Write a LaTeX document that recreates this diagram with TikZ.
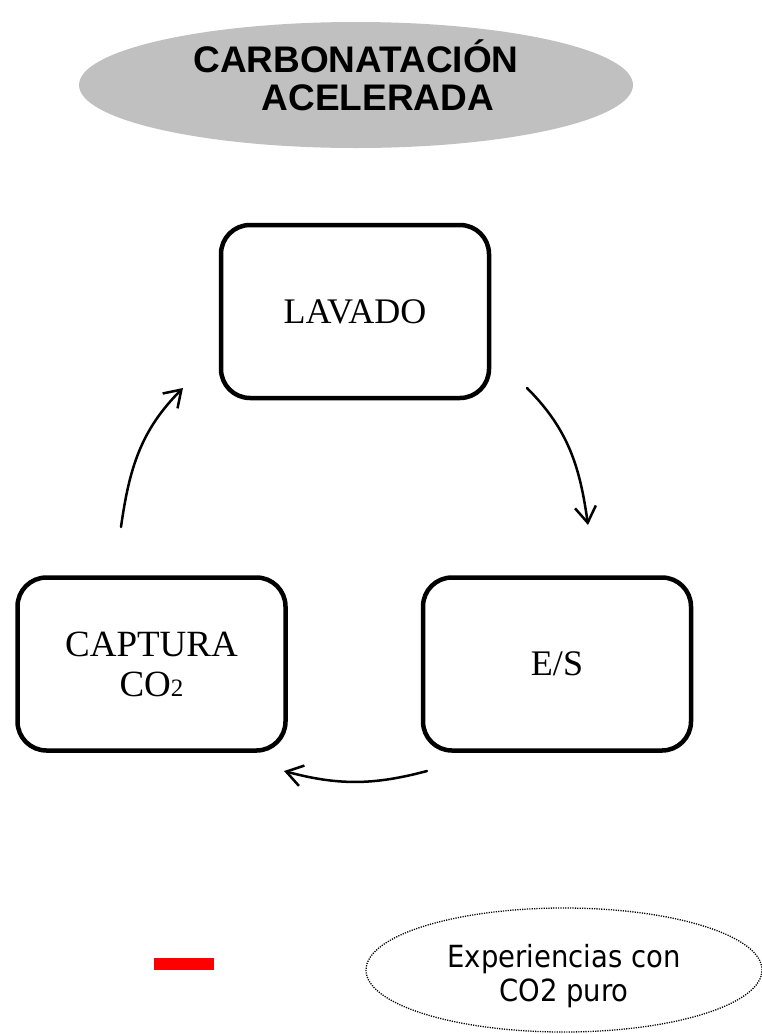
\documentclass[tikz,border=0pt]{standalone}
\usepackage{fontspec}
\setmainfont{Liberation Serif}
\newfontfamily\arialfont{Liberation Sans}
\newfontfamily\tahomafont{DejaVu Sans Condensed}
\usetikzlibrary{arrows.meta,shapes.geometric}
\definecolor{titlegray}{RGB}{192,192,192}
\tikzset{
  x=1pt,y=1pt,
  titleshape/.style={ellipse,fill=titlegray,minimum width=554,minimum height=126,inner sep=0},
  titletxt/.style={font=\arialfont\bfseries\fontsize{37}{40}\selectfont,inner sep=0},
  stepbox/.style={draw,line width=4.5pt,rounded corners=29pt,minimum width=268,minimum height=173,
    inner sep=0,align=center,font=\fontsize{36}{40}\selectfont},
  cyclearrow/.style={line width=2.5pt,line cap=round,-{Straight Barb[length=16pt,width=21pt,line width=2.5pt]}},
  noteshape/.style={ellipse,draw,line width=1.3pt,dash pattern=on 1.2pt off 1.2pt,minimum width=396,
    minimum height=124,inner sep=0},
  notetxt/.style={align=center,inner sep=0,font=\tahomafont\fontsize{30.5}{34}\selectfont},
  redbar/.style={fill=red,minimum width=60,minimum height=12,inner sep=0}
}
\begin{document}
\begin{tikzpicture}
\useasboundingbox (0,0) rectangle (762,-1034);
% title
\node[titleshape] (title) at (356,-85) {};
\node[titletxt,anchor=base] (t1) at (356,-72) {CARBONATACIÓN};
\node[titletxt,anchor=base] (t2) at (378,-110) {ACELERADA};
% boxes
\node[stepbox] (lavado) at (355,-311.5) {LAVADO};
\node[stepbox] (es) at (557,-664) {E/S};
\node[stepbox,font=\fontsize{37}{40}\selectfont] (captura) at (151.5,-664) {CAPTURA\\CO{\fontsize{25}{25}\selectfont 2}};
% arrows
\coordinate (a1s) at (121,-527);
\coordinate (a1e) at (183,-388);
\coordinate (a2s) at (527,-388);
\coordinate (a2e) at (588,-525);
\coordinate (a3s) at (427,-771);
\coordinate (a3e) at (284,-771);
\draw[cyclearrow] (a1s) to[out=82,in=225] (a1e);
\draw[cyclearrow] (a2s) to[out=-45,in=98] (a2e);
\draw[cyclearrow] (a3s) to[out=195,in=-15] (a3e);
% legend
\node[redbar] (red) at (184,-964) {};
\node[noteshape] (note) at (564,-970) {};
\node[notetxt] (notetext) at (564,-976) {Experiencias con\\CO2 puro};
\end{tikzpicture}
\end{document}
